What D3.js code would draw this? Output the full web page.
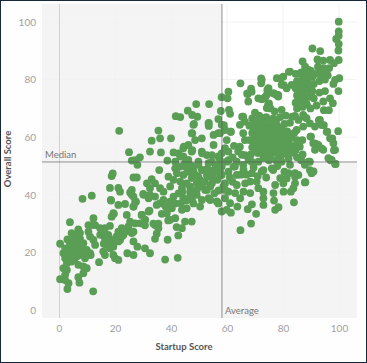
<!DOCTYPE html>
<html>
<head>
<meta charset="utf-8">
<script src="https://cdn.jsdelivr.net/npm/d3@7"></script>
<style>
  html, body { margin: 0; padding: 0; background: #fff; overflow: hidden; }
  svg { display: block; font-family: Lato, "Open Sans", sans-serif; }
</style>
</head>
<body>
<div id="chart"></div>
<script>
// values, [startup score, overall score]
const lowGroup = [[3.9,30.5],[0.4,23],[4.5,26.7],[6.9,28],[5.7,26],[7.5,26.7],[5.1,24.3],[3.9,22.6],[6.3,23.2],[8.7,23.2],[2.2,21.4],[3.9,20.9],[5.7,21.4],[8.1,21.4],[9.9,20.9],[11.1,19.7],[1.6,19.7],[3.4,19.1],[5.1,19.1],[7.5,19.1],[2.2,18],[3.9,18],[6.3,18.6],[9.3,18],[11.3,19.1],[2.8,16.2],[1.6,14.5],[4.5,16.8],[6.9,15.7],[8.7,15.1],[9.9,14.5],[2.8,13.9],[2.2,12.2],[0.4,10.7],[2.2,10.4],[3.4,9.3],[3,7.3],[6.9,11.4],[7.3,9.5],[8.7,12.8],[12.2,6.5],[14.3,16.6],[8.4,38.6],[11.7,39.7]];
const lowerMidGroup = [[12.3,31.9],[10.5,29.5],[11.7,29.5],[12.9,29.5],[10.5,27.2],[11.1,25.5],[12.3,24.3],[12.9,22.6],[14.7,28.4],[16.4,28.4],[18.2,29.2],[15.8,26.7],[17.6,26.1],[16.4,24.9],[18.8,24.3],[14.7,26.1],[17,22.6],[19.4,22],[15.8,20.3],[16.4,19.1],[18.2,21.4],[21.2,23.8],[22.4,25.5],[23.6,27.2],[24.8,29],[26,26.7],[26.6,27.2],[22.4,28.4],[21.2,27.2],[24.2,33],[25.4,30.7],[19.4,33.6],[18.8,32.4],[21.2,36.5],[23.6,36.8],[26.6,35.9],[27.5,37.6],[18.5,38.2],[21.8,41.1],[25.4,40.8],[26.6,39.4],[30.1,40.3],[32,38.8],[32,34.2],[29.5,33],[30.7,31.3],[29,30.1],[27.2,30.1],[26.6,23.8],[28,22],[30.7,21.4],[32.5,19.7],[24.4,19.7],[26.6,19.1],[19.4,19.1],[21.2,17.4],[20,18],[21.8,24.3],[37.9,17.5],[42.4,18.1],[38.8,24.4],[34.3,24.7],[34.9,26.5],[33.7,30],[35.5,30],[30.7,29.4],[36.7,33.4],[42,28.8],[42.6,25.9],[39,31.1],[18.2,42.4],[21.2,42.4],[18.6,38],[19.2,47.4],[18.8,46.5],[19.6,33.4]];
const centerGroup = [[21.5,62.2],[25,54.8],[28.9,53],[27.2,52],[28,50.4],[26,51.9],[35.5,62.3],[33.1,58.8],[36.1,59.6],[40,59.6],[32.5,55],[36.4,54.7],[40.9,54.7],[38.7,51.9],[41.5,51.5],[35.8,48.6],[39.1,46.3],[40.9,45.2],[26.6,46],[27.8,46],[33.1,45.4],[31.4,44],[34.3,44],[36.1,42.3],[32.5,42.3],[39.7,42.9],[37.3,41.1],[30.2,40],[34.3,39.4],[32.5,40],[26,41.7],[26,40],[27.2,37.6],[26.6,35.9],[32.3,34.5],[34.9,36.5],[37.3,38.2],[39.7,37.6],[40.9,39.4],[42.7,40.5],[44.4,38.8],[46.8,39.4],[49.2,40],[51,38.2],[53.4,38.8],[48,37],[45.6,35.3],[43.9,34.8],[40.3,35.3],[38.5,33.6],[39.7,31.3],[41.5,31.9],[45,30.7],[47.4,30.7],[29.6,33],[30.8,31.3],[34.3,29.5],[35.5,28.4],[43.9,28.4],[41.5,49.2],[43.3,49.8],[45,51],[42.1,47.5],[44.4,46.9],[43.3,44.6],[43.9,42.3],[46.2,48],[48,48.6],[49.8,50.4],[51.6,48.6],[53.4,46.3],[55.2,48.6],[49.8,46.3],[47.4,45.8],[49.2,44],[51,43.4],[52.8,41.7],[54,38.2],[46.8,42.9],[49.2,41.7],[46.8,41.1],[54.6,44],[56.6,45.2],[58.1,46.9],[58.1,49.8],[58.7,42.9],[59.3,38.8],[56.9,37],[58.1,34.2],[59.9,34.8],[60.5,41.1],[48,64.3],[53.4,64.8],[47.4,61.4],[48.6,59],[46.2,57.3],[44.4,56.2],[42.7,54.4],[47.4,55],[51,55],[52.8,53.8],[54.6,53.8],[55.2,57.3],[56.9,61.4],[55.2,60.8],[58.1,64.3],[51,59.6],[44.4,53.3],[46.2,52.1],[49.8,51.5],[56.9,53.3],[58.1,54.4],[59.3,56.2],[59.9,51.5],[57.5,48.6],[43.3,53.3],[53.4,51],[54.6,51.5],[41.7,67.3],[43.3,67],[49,71.5],[53.6,71.5],[46,69.2],[47.6,67.7],[49.4,67.1],[48.2,64.6],[53.5,65],[53.5,63.9],[47.6,61.3],[51.1,54.4],[47.6,55.5],[44.6,56.7],[50.4,35.9],[52.2,41.7],[54,42.9],[50.4,42.9],[51,48.6],[52.8,46.9],[55.2,45.2],[56.4,37.7],[57.5,47.5]];
const upperMidGroup = [[60.5,75.8],[58.1,73.9],[60.2,73.5],[67.4,75],[68.8,75.8],[67.6,72.4],[71.2,73.5],[74.2,74.7],[77.1,75],[78.3,74.1],[74.7,71.2],[57.8,69.1],[60.7,69.5],[61.1,68.1],[56.9,66.3],[65.8,67.1],[66.4,65.4],[64.6,64.3],[61.4,61.9],[59.3,62.5],[57.5,61.4],[59.9,59],[65.8,61.4],[66.4,59],[64.6,56.7],[60.5,55],[66.4,53.8],[62.8,49.8],[65.8,50.4],[68.8,51.5],[71.2,51.5],[73,48.6],[76.5,48.6],[79.5,51.5],[82.5,50.4],[84.3,47.5],[81.3,45.7],[80.1,44],[87.8,44.3],[84.3,46.3],[89.6,51.5],[87.8,50.4],[89.6,48.6],[90.2,47.5],[64.8,78.7],[72.2,80.4],[72.2,78.7],[67.2,75.2],[68.6,76.9],[65.4,67.1],[58.9,64.2],[61.3,61.9],[75,71.7],[73.2,73.5],[74.4,76.4],[79.1,80.4],[82.1,82.7],[80.3,78.1],[77.9,74.6]];
const denseGroup = [[69,66.5],[71.5,67.5],[74,67],[76.5,66.5],[79,67],[68,64],[70.5,64.5],[73,64],[75.5,64.5],[78,63.8],[80.5,64.6],[82.5,65],[69,61.5],[71.5,62],[74,61.2],[76.5,61.8],[79,61.4],[81.5,62],[68,59],[70.5,59.5],[73,59],[75.5,59.4],[78,58.8],[80.5,59.4],[83,59.8],[69,56.5],[71.5,57],[74,56.4],[76.5,56.8],[79,56.2],[81.5,56.8],[84,57],[68.5,54],[71,54.5],[73.5,54],[76,54.4],[78.5,53.8],[81,54.2],[83.5,54.6],[85,53],[75,52],[77.5,52],[82,52.5],[70,68.5],[85,59],[84,61.5]];
const rightGroup = [[84.3,67.4],[87.2,67.7],[88.4,66.6],[85.5,66],[89.6,64.8],[93.2,66],[93.8,64.2],[95.6,61.9],[99.7,62.1],[84.9,62.5],[87.2,63.7],[91.4,63.7],[90,60.2],[90.8,57.9],[91.4,55.6],[93.8,56.1],[94.4,55.6],[92.6,57.3],[96.8,59.6],[98,57.9],[98.6,55.6],[96.2,52.7],[98.6,50.7],[97.4,52.1],[86.9,59],[86,56.7],[89.8,60.2],[91.6,57.8],[97.6,59.6],[98.2,55.5],[97,52],[98.8,50.7],[95.8,61.9],[92.8,65.9],[94.6,64.2],[83.3,67.1],[87.5,67.1]];
const bottomGroup = [[64.8,27.7],[68.6,30],[70.4,33.4],[67.4,35],[68.9,36.7],[61.4,33.8],[63.7,35.9],[61.1,37.1],[77.2,34.8],[78.4,35.7],[83.9,37.4],[76.8,38],[73,38.8],[80.2,41.1],[82.8,41.1],[88,44.4],[62.9,40.6],[64.7,38.8],[65.9,41.1],[68.3,40.6],[71.2,42.3],[73,41.1],[76.6,40.6],[77.2,43.4],[79,45.8],[84.3,44],[83.7,42.3],[85.5,46.9],[59.3,41.7],[59.3,44],[63.5,43.4],[66.5,44],[70.6,44.6],[68.9,47.5],[72.4,48.1],[76,49.2],[63.5,46.9],[65.9,48.7],[62.3,49.8],[65.3,53.9],[67.7,52.1],[75.4,53.3],[89.1,51.5],[90.9,48.1],[68.3,44.6],[61,46],[60.5,48]];
const topGroup = [[99.9,100.1],[99.9,96.7],[99.9,95.2],[99,94.1],[99.9,92.4],[99.8,90.1],[90.5,90.8],[93.3,89.9],[99.9,86.8],[98.2,85.7],[96.8,86.8],[94.4,86.6],[92.3,87],[87,86.3],[87.9,84.5],[89.1,83.4],[82.5,82.8],[77.8,80.5],[80.1,81],[79.5,78.2],[81.3,77],[83.1,78.2],[72.4,79.9],[74.8,77],[76.6,75.3],[78.3,74.7],[73.6,73.9],[72.4,73.2],[74.8,71.2],[74.2,70.1],[95,76],[99.8,76],[100.1,80.5],[98.6,79.9],[98,78.5],[96.8,73.5],[97.8,71.8],[94.4,72.4],[94.6,69.4],[96.4,69.4],[89.8,70],[84.5,82],[86.5,82.5],[88.5,81.5],[90.5,81],[85,79.5],[87,80],[89,79],[91,78.5],[84.5,77],[86.5,77.5],[88.5,76.5],[90.5,76],[85,74.5],[87,75],[89,74],[91,73.5],[84.5,72],[86.5,72.5],[88.5,71.5],[85,70],[87,70.5],[92.5,84.5],[94.5,84],[96.5,84],[92,82],[94,82],[96,81.5],[93,79.5],[95,80]];
// second pass over the places where the dots overlap most
const overlapGroup = [[70,65.5],[72.5,66],[75,65.5],[77.5,65.5],[69.5,63],[72,63],[74.5,62.8],[77,63],[79.5,62.8],[70,60.5],[72.5,60.5],[75,60.3],[77.5,60.3],[80,60.5],[82.3,61],[69.5,58],[72,58],[74.5,57.8],[77,57.8],[79.5,58],[82,58.2],[70,55.5],[72.5,55.3],[75,55.5],[77.5,55.2],[80,55.5],[82.5,55.8],[84.5,55.5],[73,52.8],[79,52.6],[86,82],[88,83],[90,83],[85.5,78.5],[87.8,78.8],[90,77.8],[85.8,75.8],[87.8,73.5],[90,74.8],[85.5,73],[87.5,71.3],[93.5,83],[95.5,82.8],[93.8,80.8],[3,24.5],[4.8,20],[6.8,20.5],[8.8,19.8],[5.5,17.5],[3,19.5],[7.5,24.8],[16,23],[18,23.5],[20.5,25.5],[23,26],[24.8,27.5],[36,37],[38,36],[41.5,37],[43.5,37],[45.5,38],[47.5,38.5],[44,41],[45.5,44],[48.5,47],[50.5,45],[52,44.5],[53,49],[56,50],[47.5,50],[45.5,49.5],[55.5,40.5],[57,41.5],[55,47],[60.5,52],[62,53],[63.5,51.5],[65,47],[67,47],[69.5,49.5],[71,46.5],[74,46],[64,55],[62.5,57],[62,44.5],[57.5,52],[73,36.5],[80.5,48],[82,47.5],[78,50],[86.5,52],[87,54],[75.5,70],[77,69],[79.5,69.5],[81,67.5],[92,71],[93,75.5]];
const xTicks = [0, 20, 40, 60, 80, 100];
const yTicks = [0, 20, 40, 60, 80, 100];
const averageScore = 58.2;
const medianScore = 51.4;

const allPoints = [].concat(lowGroup, lowerMidGroup, centerGroup, upperMidGroup, denseGroup, rightGroup, bottomGroup, topGroup, overlapGroup);

const width = 367, height = 363;
const x = d3.scaleLinear().domain([0, 100]).range([59, 339]);
const y = d3.scaleLinear().domain([0, 100]).range([310, 22]);
const plotLeft = 42, plotRight = 357, plotTop = 4, plotBottom = 318;

const svg = d3.select('#chart').append('svg').attr('width', width).attr('height', height);

svg.append('rect').attr('width', width).attr('height', height).attr('fill', '#fefefe');

// quadrant shading, top right stays white
svg.append('rect')
  .attr('x', plotLeft).attr('y', plotTop)
  .attr('width', plotRight - plotLeft).attr('height', plotBottom - plotTop)
  .attr('fill', '#f4f4f5');
svg.append('rect')
  .attr('x', x(averageScore)).attr('y', plotTop)
  .attr('width', plotRight - x(averageScore)).attr('height', y(medianScore) - plotTop)
  .attr('fill', '#fff');

// gridlines
svg.append('g').selectAll('line').data(yTicks.slice(1)).join('line')
  .attr('x1', plotLeft).attr('x2', plotRight)
  .attr('y1', d => y(d)).attr('y2', d => y(d))
  .attr('stroke', '#f2f2f2');
svg.append('g').selectAll('line').data(xTicks.slice(1)).join('line')
  .attr('y1', plotTop).attr('y2', plotBottom)
  .attr('x1', d => x(d)).attr('x2', d => x(d))
  .attr('stroke', '#f2f2f2');
// zero line
svg.append('line')
  .attr('x1', x(0) + 0.5).attr('x2', x(0) + 0.5).attr('y1', plotTop).attr('y2', plotBottom)
  .attr('stroke', '#d2d2d2');

svg.append('g').selectAll('circle').data(allPoints).join('circle')
  .attr('cx', d => x(d[0]))
  .attr('cy', d => y(d[1]))
  .attr('r', 3.9)
  .attr('fill', '#5a9e55');

// reference lines sit over the dots
svg.append('line')
  .attr('x1', x(averageScore)).attr('x2', x(averageScore)).attr('y1', plotTop).attr('y2', plotBottom)
  .attr('stroke', '#555').attr('stroke-opacity', 0.65).attr('stroke-width', 1);
svg.append('line')
  .attr('x1', plotLeft).attr('x2', plotRight).attr('y1', y(medianScore)).attr('y2', y(medianScore))
  .attr('stroke', '#555').attr('stroke-opacity', 0.65).attr('stroke-width', 1);

svg.append('text').attr('x', plotLeft + 3).attr('y', y(medianScore) - 4)
  .attr('fill', '#777').style('font-size', '9.5px').text('Median');
svg.append('text').attr('x', x(averageScore) + 3).attr('y', plotBottom - 4)
  .attr('fill', '#777').style('font-size', '9.5px').text('Average');

// axes
const xAxis = svg.append('g').attr('transform', `translate(0,${plotBottom + 4})`)
  .call(d3.axisBottom(x).tickValues(xTicks).tickSize(0).tickPadding(3));
const yAxis = svg.append('g').attr('transform', `translate(${plotLeft - 6},0)`)
  .call(d3.axisLeft(y).tickValues(yTicks).tickSize(0).tickPadding(0));
[xAxis, yAxis].forEach(a => {
  a.select('.domain').remove();
  a.selectAll('text').attr('fill', '#a0a0a0').style('font-size', '10px').style('font-family', 'Lato, "Open Sans", sans-serif');
});

svg.append('text').attr('x', 184).attr('y', 350).attr('text-anchor', 'middle')
  .attr('fill', '#555').style('font-size', '9.5px').style('font-weight', 700).text('Startup Score');
svg.append('text').attr('transform', 'translate(11,159) rotate(-90)').attr('text-anchor', 'middle')
  .attr('fill', '#555').style('font-size', '9.5px').style('font-weight', 700).text('Overall Score');

// thin dark frame of the screenshot
svg.append('rect').attr('x', 0.5).attr('y', 0.5).attr('width', width - 1).attr('height', height - 1)
  .attr('fill', 'none').attr('stroke', '#16283a');
</script>
</body>
</html>
